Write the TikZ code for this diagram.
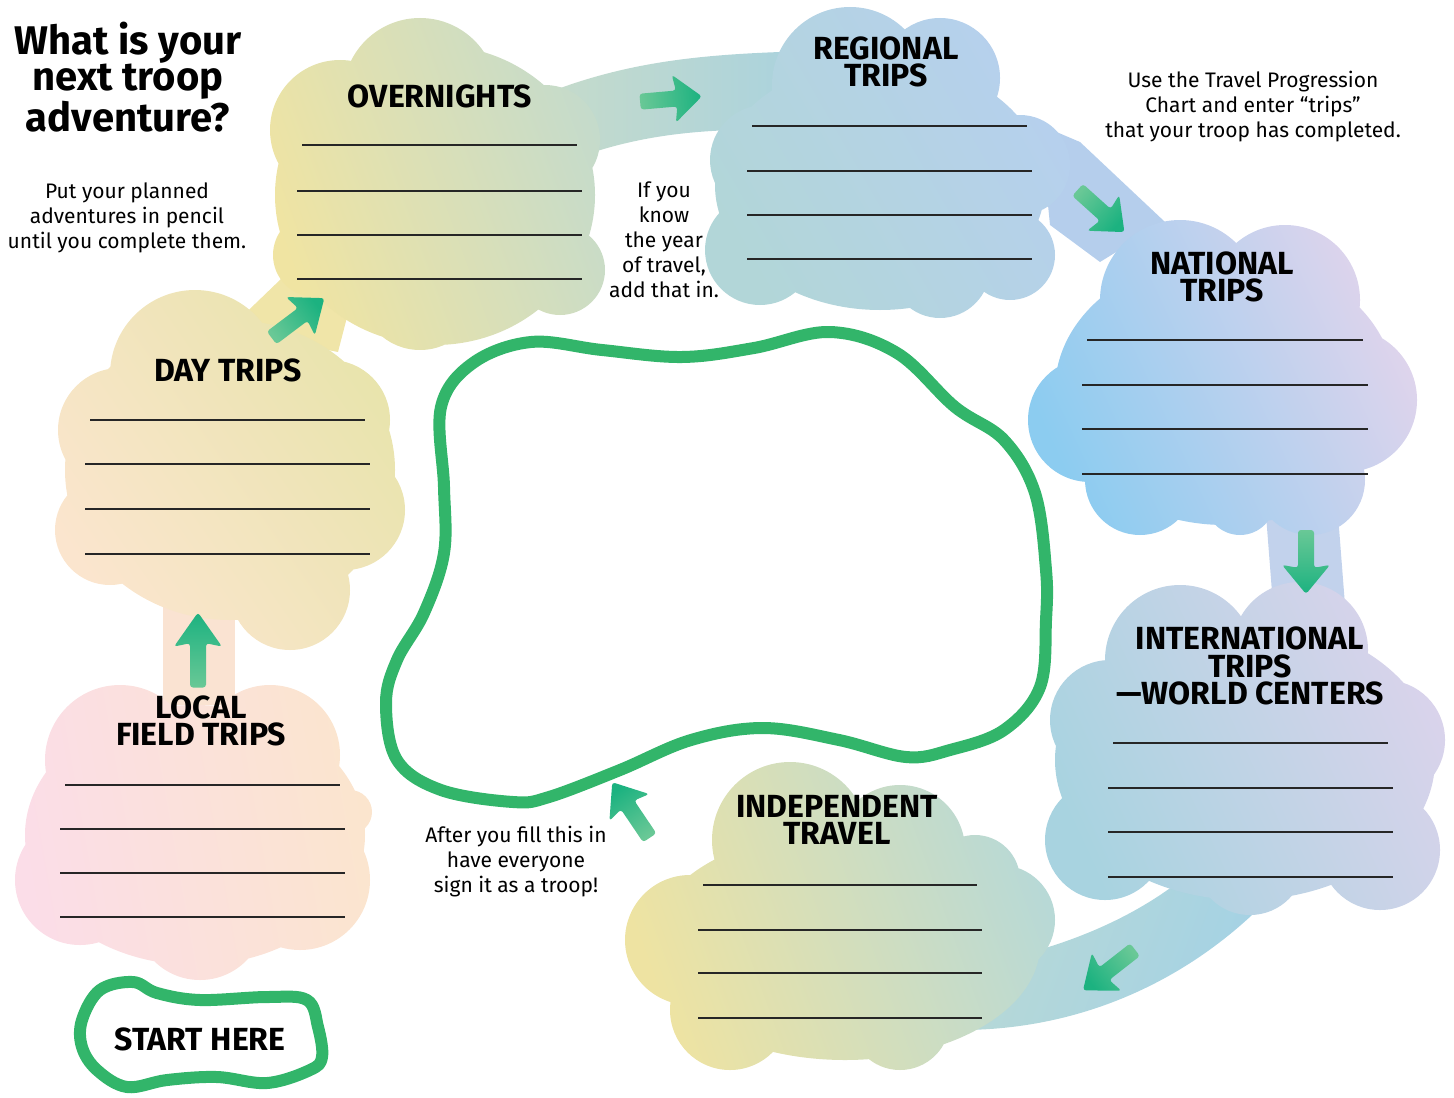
\documentclass[tikz,border=0pt]{standalone}
\usepackage{fontspec}
\setmainfont{Fira Sans}
\newfontfamily\bodyfont{Fira Sans}
\definecolor{blobgreen}{RGB}{50,181,106}
\definecolor{arrdark}{RGB}{28,178,128}
\definecolor{arrlight}{RGB}{105,200,150}
\definecolor{cpink}{RGB}{251,221,232}
\definecolor{cpeach}{RGB}{251,229,206}
\definecolor{cyellow}{RGB}{253,233,148}
\definecolor{colive}{RGB}{232,228,172}
\definecolor{cyell2}{RGB}{240,228,162}
\definecolor{csage}{RGB}{197,219,203}
\definecolor{cteal}{RGB}{178,214,216}
\definecolor{cblue}{RGB}{140,204,240}
\definecolor{cpaleblue}{RGB}{182,208,238}
\definecolor{clav}{RGB}{224,212,236}
\definecolor{clav2}{RGB}{217,211,235}
\definecolor{cteal2}{RGB}{184,217,214}
\newcommand\grarrow[4]{%
  \begin{scope}[shift={(#1,#2)},rotate=#3,xscale=#4/66]
    \shade[left color=arrlight,right color=arrdark,shading angle={90+#3},rounded corners=1.5pt]
      (-33,-8) -- (6,-8) -- (3,-24) -- (33,0) -- (3,24) -- (6,8) -- (-33,8) -- cycle;
  \end{scope}}
\begin{document}
\begin{tikzpicture}[x=0.5pt,y=-0.5pt,
  wl/.style={line width=0.75pt,draw=black!85},
  lbl/.style={font=\fontsize{16}{13.6}\selectfont\bfseries,align=center,inner sep=0pt},
  body/.style={font=\bodyfont\fontsize{10.5}{12.5}\selectfont,align=center,inner sep=0pt},
  blob/.style={draw=blobgreen,line width=6pt,line join=round}]
\useasboundingbox (0,0) rectangle (1454,1097);

% ---------- connecting bands ----------
\fill[color={rgb,255:red,250;green,227;blue,210}] (163,585) rectangle (235,705);
\fill[color={rgb,255:red,240;green,229;blue,168}] (228,330) -- (282,278) -- (352,298) -- (338,352) -- cycle;
\shade[left color=csage,right color={rgb,255:red,172;green,211;blue,220}]
  (555,90) .. controls (630,62) and (700,55) .. (780,52) -- (780,130)
  .. controls (700,128) and (640,136) .. (585,155) -- cycle;
\fill[color={rgb,255:red,181;green,206;blue,236}] (1040,125) -- (1080,142) -- (1165,222) -- (1100,262) -- (1050,225) -- cycle;
\fill[color={rgb,255:red,194;green,210;blue,236}] (1266,515) -- (1338,515) -- (1346,618) -- (1274,618) -- cycle;
\shade[left color=cteal2,right color={rgb,255:red,165;green,210;blue,228},shading angle=70]
  (1020,955) .. controls (1100,935) and (1160,900) .. (1195,868) -- (1252,915)
  .. controls (1180,982) and (1080,1030) .. (960,1030) -- cycle;

% ---------- clouds ----------
% local field trips
\shade[left color=cpink,right color=cpeach,shading angle=100]
  (195,835) ellipse [x radius=170,y radius=130]
  (120,760) circle [radius=75] (270,755) circle [radius=70]
  (80,880) circle [radius=65] (300,880) circle [radius=70]
  (200,915) circle [radius=65] (350,812) circle [radius=22];
% day trips
\shade[left color=cpeach,middle color=cyellow,right color=colive,shading angle=125]
  (230,470) ellipse [x radius=165,y radius=150]
  (195,375) circle [radius=85] (120,430) circle [radius=62]
  (110,530) circle [radius=55] (330,420) circle [radius=60]
  (345,510) circle [radius=60] (290,590) circle [radius=60];
% overnights
\shade[left color=cyell2,right color=csage,shading angle=110]
  (435,195) ellipse [x radius=160,y radius=150]
  (420,95) circle [radius=77] (340,130) circle [radius=70]
  (545,140) circle [radius=55] (315,255) circle [radius=42]
  (560,270) circle [radius=45] (420,290) circle [radius=60];
% regional trips
\shade[left color=cteal,middle color=cblue,right color=cpaleblue,shading angle=120]
  (880,185) ellipse [x radius=165,y radius=125]
  (850,85) circle [radius=78] (940,78) circle [radius=60]
  (1020,165) circle [radius=50] (765,160) circle [radius=55]
  (760,250) circle [radius=55] (940,268) circle [radius=50]
  (1010,255) circle [radius=45];
% national trips
\shade[left color=cblue,middle color={rgb,255:red,192;green,211;blue,237},right color=clav,shading angle=115]
  (1225,390) ellipse [x radius=170,y radius=135]
  (1180,300) circle [radius=80] (1285,300) circle [radius=75]
  (1345,400) circle [radius=72] (1090,420) circle [radius=62]
  (1140,480) circle [radius=55] (1310,480) circle [radius=55]
  (1240,500) circle [radius=35];
% international trips
\shade[left color={rgb,255:red,168;green,211;blue,224},middle color=cblue,right color=clav2,shading angle=115]
  (1245,760) ellipse [x radius=190,y radius=140]
  (1180,660) circle [radius=75] (1300,650) circle [radius=68]
  (1110,720) circle [radius=60] (1385,740) circle [radius=60]
  (1105,840) circle [radius=60] (1380,850) circle [radius=60]
  (1250,860) circle [radius=55];
% independent travel
\shade[left color={rgb,255:red,238;green,227;blue,162},right color=cteal2,shading angle=110]
  (845,945) ellipse [x radius=195,y radius=115]
  (790,840) circle [radius=78] (900,850) circle [radius=65]
  (690,940) circle [radius=65] (1000,920) circle [radius=55]
  (730,1010) circle [radius=60] (900,1020) circle [radius=50]
  (975,880) circle [radius=45];

% ---------- arrows ----------
\grarrow{198}{650}{90}{75}
\grarrow{298}{318}{37}{66}
\grarrow{671}{99}{5}{62}
\grarrow{1101}{211}{-42}{63}
\grarrow{1306}{562}{-90}{64}
\grarrow{1109}{970}{-142}{66}
\grarrow{631}{810}{124}{67}

% ---------- green blobs ----------
\draw[blob] plot[smooth cycle,tension=0.6] coordinates {
  (441,407) (473,363) (531,342) (602,350) (682,357) (754,348) (830,332)
  (897,353) (955,407) (1004,440) (1035,493) (1046,570) (1046,620) (1040,687)
  (1004,730) (950,750) (906,757) (839,740) (763,728) (691,740) (620,770)
  (549,797) (513,802) (441,790) (397,760) (386,703) (397,660) (424,613)
  (444,553) (444,487)};
\draw[blob] plot[smooth cycle,tension=0.6] coordinates {
  (82,1020) (100,990) (133,982) (157,993) (200,1000) (267,997) (307,1000)
  (318,1027) (322,1057) (310,1070) (267,1083) (217,1077) (167,1080)
  (127,1087) (97,1070) (82,1047)};

% ---------- write-in lines ----------
\foreach \y/\a/\b in {785/65/340,829/60/345,873/60/345,917/60/345}
  \draw[wl] (\a,\y) -- (\b,\y);
\foreach \y/\a/\b in {420/90/365,464/85/370,509/85/370,554/85/370}
  \draw[wl] (\a,\y) -- (\b,\y);
\foreach \y/\a/\b in {145/302/577,191/297/582,235/297/582,279/297/582}
  \draw[wl] (\a,\y) -- (\b,\y);
\foreach \y/\a/\b in {126/752/1027,171/747/1032,215/747/1032,259/747/1032}
  \draw[wl] (\a,\y) -- (\b,\y);
\foreach \y/\a/\b in {340/1087/1363,385/1082/1368,429/1082/1368,474/1082/1368}
  \draw[wl] (\a,\y) -- (\b,\y);
\foreach \y/\a/\b in {743/1113/1388,788/1108/1393,832/1108/1393,877/1108/1393}
  \draw[wl] (\a,\y) -- (\b,\y);
\foreach \y/\a/\b in {885/703/977,930/698/982,973/698/982,1018/698/982}
  \draw[wl] (\a,\y) -- (\b,\y);

% ---------- labels ----------
\node[lbl] (local) at (201,721) {LOCAL\\FIELD TRIPS};
\node[lbl] (day) at (228,370) {DAY TRIPS};
\node[lbl] (over) at (440,96) {OVERNIGHTS};
\node[lbl] (reg) at (886,62) {REGIONAL\\TRIPS};
\node[lbl] (nat) at (1222,277) {NATIONAL\\TRIPS};
\node[lbl] (intl) at (1250,666) {INTERNATIONAL\\TRIPS\\—WORLD CENTERS};
\node[lbl] (indep) at (837,820) {INDEPENDENT\\TRAVEL};
\node[lbl] (start) at (200,1039) {START HERE};

% ---------- texts ----------
\node[font=\fontsize{20}{18}\selectfont\bfseries,align=center,inner sep=0pt] (title) at (128,77)
  {What is your\\next troop\\adventure?};
\node[body] (pencil) at (127,218) {Put your planned\\adventures in pencil\\until you complete them.};
\node[body] (year) at (664,240) {If you\\know\\the year\\of travel,\\add that in.};
\node[body] (use) at (1253,107) {Use the Travel Progression\\Chart and enter “trips”\\that your troop has completed.};
\node[body] (after) at (516,862) {After you fill this in\\have everyone\\sign it as a troop!};
\end{tikzpicture}
\end{document}
